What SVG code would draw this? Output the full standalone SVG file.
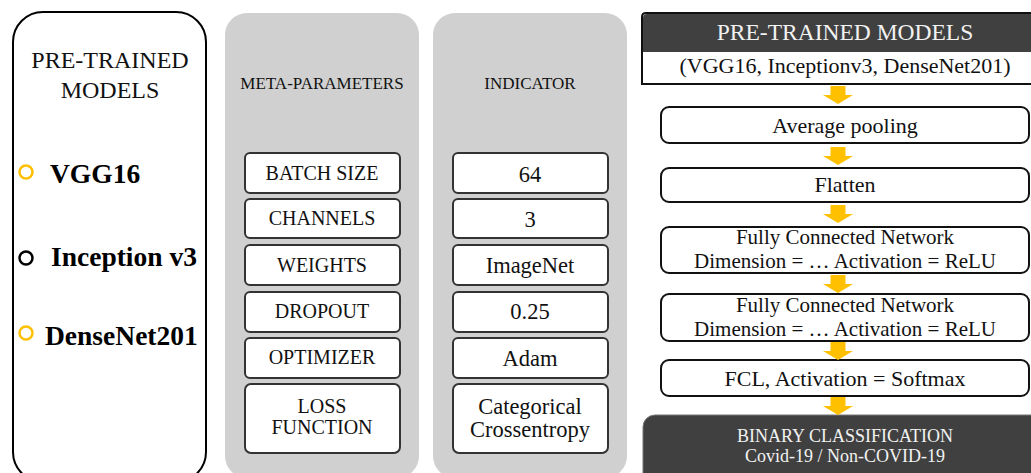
<svg xmlns="http://www.w3.org/2000/svg" width="1031" height="473" viewBox="0 0 1031 473" font-family="'Liberation Serif', 'Times New Roman', serif">
  <defs>
    <style>
      text { font-family: "Liberation Serif", "Times New Roman", serif; }
      .panel { fill: #d0d0d0; }
      .pbox { fill: #ffffff; stroke: #333333; stroke-width: 2; }
      .fbox { fill: #ffffff; stroke: #111111; stroke-width: 2; }
      .lbl { font-size: 20px; fill: #111111; text-anchor: middle; }
      .val { font-size: 22.5px; fill: #111111; text-anchor: middle; }
      .head { font-size: 17px; fill: #111111; text-anchor: middle; }
      .flow { font-size: 22px; fill: #111111; text-anchor: middle; }
      .flow2 { font-size: 21px; fill: #111111; text-anchor: middle; }
      .model { font-size: 27.5px; font-weight: bold; fill: #000000; }
      .dark { fill: #404040; }
      .light { fill: #f2f2f2; text-anchor: middle; }
      .arrow { fill: #ffc000; }
    </style>
    <path id="down" d="M -7.5 0 H 7.5 V 9 H 15 L 0 18 L -15 9 H -7.5 Z"/>
  </defs>
  <rect width="1031" height="473" fill="#ffffff"/>

  <!-- model list -->
  <g id="models">
    <rect x="13" y="12" width="193" height="470" rx="30" fill="#ffffff" stroke="#000000" stroke-width="2"/>
    <text font-size="24" fill="#111111" text-anchor="middle" x="110" y="68">PRE-TRAINED</text>
    <text font-size="24" fill="#111111" text-anchor="middle" x="110" y="98">MODELS</text>
    <circle cx="26" cy="172" r="6.5" fill="none" stroke="#ffc000" stroke-width="2.5"/>
    <text class="model" x="50" y="183">VGG16</text>
    <circle cx="26" cy="258" r="6.5" fill="none" stroke="#000000" stroke-width="2.5"/>
    <text class="model" x="51" y="266">Inception v3</text>
    <circle cx="26" cy="333" r="6.5" fill="none" stroke="#ffc000" stroke-width="2.5"/>
    <text class="model" x="45" y="345">DenseNet201</text>
  </g>

  <!-- meta-parameters column -->
  <g id="meta-parameters">
    <rect class="panel" x="225" y="13" width="194" height="465" rx="22"/>
    <text class="head" x="322" y="89">META-PARAMETERS</text>
    <rect class="pbox" x="245" y="153" width="155" height="40" rx="5"/>
    <text class="lbl" x="322" y="180">BATCH SIZE</text>
    <rect class="pbox" x="245" y="199" width="155" height="39" rx="5"/>
    <text class="lbl" x="322" y="225">CHANNELS</text>
    <rect class="pbox" x="245" y="245" width="155" height="40" rx="5"/>
    <text class="lbl" x="322" y="272">WEIGHTS</text>
    <rect class="pbox" x="245" y="292" width="155" height="40" rx="5"/>
    <text class="lbl" x="322" y="318">DROPOUT</text>
    <rect class="pbox" x="245" y="338" width="155" height="40" rx="5"/>
    <text class="lbl" x="322" y="364">OPTIMIZER</text>
    <rect class="pbox" x="245" y="384" width="155" height="69" rx="6"/>
    <text class="lbl" x="322" y="413">LOSS</text>
    <text class="lbl" x="322" y="434">FUNCTION</text>
  </g>

  <!-- indicator column -->
  <g id="indicator">
    <rect class="panel" x="433" y="13" width="194" height="465" rx="22"/>
    <text class="head" x="530" y="89">INDICATOR</text>
    <rect class="pbox" x="453" y="153" width="155" height="40" rx="5"/>
    <text class="val" x="530" y="182">64</text>
    <rect class="pbox" x="453" y="199" width="155" height="39" rx="5"/>
    <text class="val" x="530" y="227">3</text>
    <rect class="pbox" x="453" y="245" width="155" height="40" rx="5"/>
    <text class="val" x="530" y="273">ImageNet</text>
    <rect class="pbox" x="453" y="292" width="155" height="40" rx="5"/>
    <text class="val" x="530" y="319">0.25</text>
    <rect class="pbox" x="453" y="338" width="155" height="40" rx="5"/>
    <text class="val" x="530" y="366">Adam</text>
    <rect class="pbox" x="453" y="384" width="155" height="69" rx="6"/>
    <text class="val" x="530" y="414">Categorical</text>
    <text class="val" x="530" y="437">Crossentropy</text>
  </g>

  <!-- pipeline: header -->
  <g id="header">
    <path d="M 642 84 V 17 Q 642 13 646 13 H 1035 V 84 Z" fill="#ffffff" stroke="#111111" stroke-width="2"/>
    <path class="dark" d="M 643 52 V 18 Q 643 14 647 14 H 1035 V 52 Z"/>
    <text class="light" font-size="23.5" x="845" y="40">PRE-TRAINED MODELS</text>
    <text class="flow" x="845" y="73">(VGG16, Inceptionv3, DenseNet201)</text>
  </g>

  <g id="avg-pooling">
    <rect class="fbox" x="661" y="107" width="368" height="36" rx="8"/>
    <text class="flow" x="845" y="133">Average pooling</text>
  </g>

  <g id="flatten">
    <rect class="fbox" x="661" y="168" width="368" height="34" rx="8"/>
    <text class="flow" x="845" y="192">Flatten</text>
  </g>

  <g id="fcn-1">
    <rect class="fbox" x="661" y="227" width="368" height="46" rx="8"/>
    <text class="flow2" x="845" y="244">Fully Connected Network</text>
    <text class="flow2" x="845" y="268">Dimension = … Activation = ReLU</text>
  </g>

  <g id="fcn-2">
    <rect class="fbox" x="661" y="294" width="368" height="47" rx="8"/>
    <text class="flow2" x="845" y="312">Fully Connected Network</text>
    <text class="flow2" x="845" y="336">Dimension = … Activation = ReLU</text>
  </g>

  <g id="fcl-softmax">
    <rect class="fbox" x="661" y="360" width="368" height="36" rx="8"/>
    <text class="flow" x="845" y="386">FCL, Activation = Softmax</text>
  </g>

  <g id="binary-classification">
    <rect class="dark" x="643" y="415" width="400" height="70" rx="12" stroke="#777777" stroke-width="1"/>
    <text class="light" font-size="18" x="845" y="442">BINARY CLASSIFICATION</text>
    <text class="light" font-size="18" x="845" y="462">Covid-19 / Non-COVID-19</text>
  </g>

  <!-- connectors -->
  <g id="connectors" class="arrow">
    <use href="#down" x="838" y="86"/>
    <use href="#down" x="838" y="147"/>
    <use href="#down" x="838" y="205"/>
    <use href="#down" x="838" y="275"/>
    <use href="#down" x="838" y="342"/>
    <use href="#down" x="838" y="397"/>
  </g>
</svg>
